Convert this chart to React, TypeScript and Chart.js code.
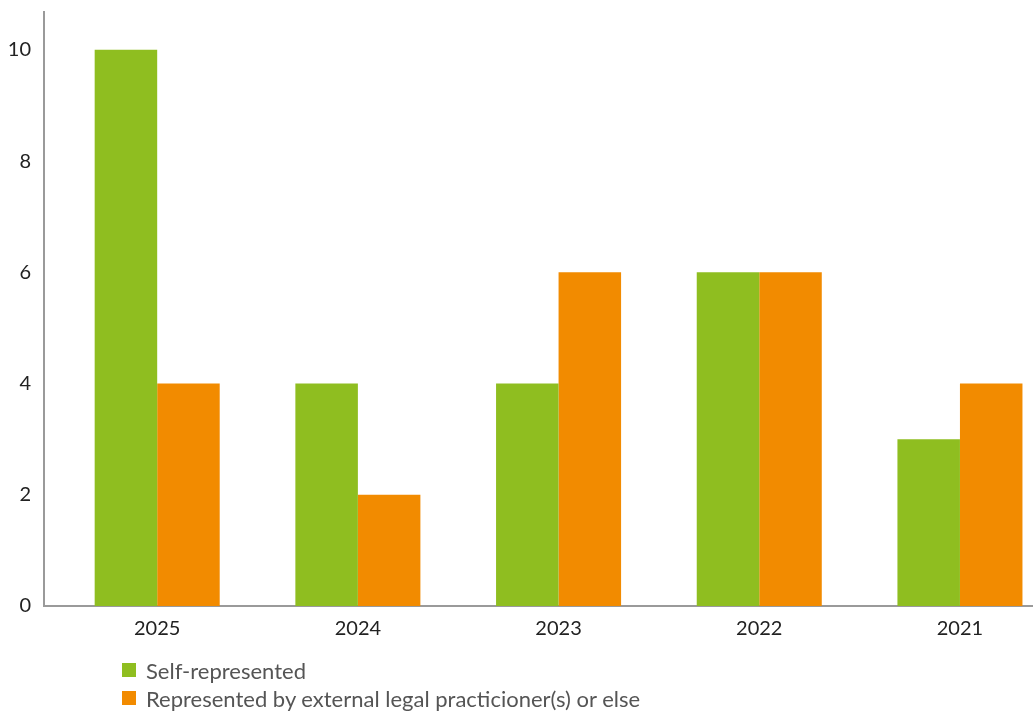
import React, { useEffect, useRef } from "react";
import { Chart, registerables } from "chart.js";

Chart.register(...registerables);

const categories = ["2025", "2024", "2023", "2022", "2021"];
const selfRepresented = [10, 4, 4, 6, 3];
const externalLegal = [4, 2, 6, 6, 4];
const yTicks = [0, 2, 4, 6, 8, 10];
const seriesNames = [
  "Self-represented",
  "Represented by external legal practicioner(s) or else",
];

const GREEN = "#8fbe20";
const ORANGE = "#f28b00";
const FONT = "Lato, 'Noto Sans', sans-serif";

export default function App() {
  const ref = useRef<HTMLCanvasElement | null>(null);

  useEffect(() => {
    if (!ref.current) return;
    const chart = new Chart(ref.current, {
      type: "bar",
      data: {
        datasets: [
          {
            label: seriesNames[0],
            data: selfRepresented.map((v, i) => ({ x: i, y: v })),
            backgroundColor: GREEN,
            borderWidth: 0,
            categoryPercentage: 0.623,
            barPercentage: 1,
          },
          {
            label: seriesNames[1],
            data: externalLegal.map((v, i) => ({ x: i, y: v })),
            backgroundColor: ORANGE,
            borderWidth: 0,
            categoryPercentage: 0.623,
            barPercentage: 1,
          },
        ],
      },
      options: {
        animation: false,
        responsive: false,
        maintainAspectRatio: false,
        layout: { padding: { top: 12, right: 0, bottom: 67, left: 0 } },
        plugins: {
          legend: { display: false },
          tooltip: { enabled: false },
        },
        scales: {
          x: {
            type: "linear",
            offset: false,
            min: -0.564,
            max: 4.364,
            grid: { display: false, drawTicks: false },
            border: { display: true, color: "#9a9a9a", width: 2 },
            afterBuildTicks: (scale: any) => {
              scale.ticks = categories.map((_, i) => ({ value: i }));
            },
            afterFit: (scale: any) => {
              scale.height = 40;
              scale.paddingLeft = 0;
              scale.paddingRight = 0;
            },
            ticks: {
              autoSkip: false,
              maxRotation: 0,
              padding: 11,
              color: "#222",
              font: { family: FONT, size: 20 },
              callback: (v: any) => categories[Math.round(Number(v))] ?? "",
            },
          },
          y: {
            min: 0,
            max: 10.68,
            grid: { display: false, drawTicks: false },
            border: { display: true, color: "#9a9a9a", width: 2 },
            afterBuildTicks: (scale: any) => {
              scale.ticks = yTicks.map((v) => ({ value: v }));
            },
            afterFit: (scale: any) => {
              scale.width = 44;
              scale.paddingTop = 0;
              scale.paddingBottom = 0;
            },
            ticks: {
              includeBounds: false,
              padding: 13,
              color: "#222",
              font: { family: FONT, size: 20 },
            },
          },
        },
      },
    });
    return () => chart.destroy();
  }, []);

  const colors = [GREEN, ORANGE];
  return (
    <div
      style={{
        position: "absolute",
        left: 0,
        top: 0,
        width: 1033,
        height: 713,
        background: "#fff",
        fontFamily: FONT,
      }}
    >
      <canvas ref={ref} width={1033} height={713} style={{ display: "block" }} />
      {seriesNames.map((name, i) => (
        <div
          key={name}
          style={{
            position: "absolute",
            left: 122,
            top: 658 + i * 28,
            height: 24,
            display: "flex",
            alignItems: "center",
            fontSize: 22,
            color: "#555",
            whiteSpace: "nowrap",
          }}
        >
          <span
            style={{
              display: "inline-block",
              width: 14,
              height: 14,
              background: colors[i],
              marginRight: 10,
            }}
          />
          {name}
        </div>
      ))}
    </div>
  );
}
